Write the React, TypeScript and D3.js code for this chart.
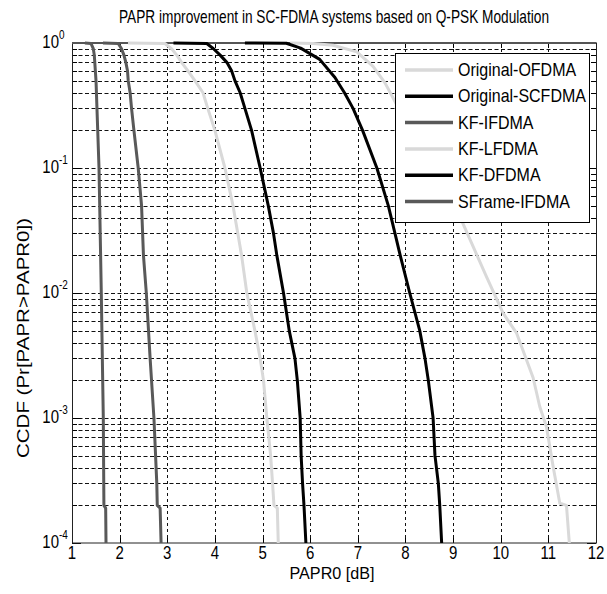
import React from "react";
import * as d3 from "d3";

type Pt = [number, number];

const seriesNames = ["Original-OFDMA", "Original-SCFDMA", "KF-IFDMA", "KF-LFDMA", "KF-DFDMA", "SFrame-IFDMA"];
const seriesColors = ["#d9d9d9", "#000000", "#595959", "#d9d9d9", "#000000", "#595959"];

const originalOFDMA: Pt[] = [[5.58,1],[6.06,0.99],[6.48,0.96],[6.98,0.85],[7.32,0.65],[7.57,0.48],[7.78,0.34],[8.1,0.2],[8.5,0.1],[8.85,0.06],[9.18,0.038],[9.7,0.0135],[10.05,0.0069],[10.33,0.0048],[10.68,0.0021],[10.82,0.00123],[10.96,0.00085],[11.1,4.1e-4],[11.24,2.08e-4],[11.38,2e-4],[11.44,1e-4]];
const originalSCFDMA: Pt[] = [[4.63,1],[5.5,0.995],[5.8,0.91],[6.2,0.74],[6.52,0.53],[6.72,0.4],[6.9,0.3],[7.1,0.2],[7.4,0.1],[7.64,0.05],[7.78,0.03],[7.89,0.02],[8.09,0.01],[8.3,0.005],[8.41,0.003],[8.48,0.002],[8.58,0.001],[8.62,5e-4],[8.69,3e-4],[8.72,2e-4],[8.76,1e-4]];
const kfIFDMA: Pt[] = [[1.65,1],[1.97,0.99],[2.04,0.9],[2.09,0.8],[2.13,0.7],[2.165,0.6],[2.18,0.5],[2.22,0.4],[2.25,0.3],[2.3,0.2],[2.39,0.1],[2.46,0.05],[2.5,0.02],[2.56,0.01],[2.64,0.003],[2.72,0.001],[2.78,3e-4],[2.79,2e-4],[2.85,1.9e-4],[2.87,1e-4]];
const kfLFDMA: Pt[] = [[2.175,1],[2.95,0.99],[3.09,0.9],[3.2,0.8],[3.3,0.7],[3.43,0.6],[3.58,0.5],[3.75,0.4],[3.85,0.3],[4.0,0.2],[4.21,0.1],[4.38,0.05],[4.48,0.03],[4.56,0.02],[4.67,0.01],[4.84,0.005],[4.95,0.003],[5.02,0.002],[5.09,0.001],[5.17,5e-4],[5.21,3e-4],[5.24,2e-4],[5.31,1.9e-4],[5.33,1e-4]];
const kfDFDMA: Pt[] = [[3.13,1],[3.83,0.99],[3.97,0.9],[4.11,0.8],[4.25,0.7],[4.35,0.6],[4.42,0.5],[4.53,0.4],[4.63,0.3],[4.77,0.2],[4.95,0.1],[5.12,0.05],[5.23,0.03],[5.3,0.02],[5.44,0.01],[5.56,0.005],[5.68,0.003],[5.73,0.002],[5.79,0.001],[5.81,5e-4],[5.84,3e-4],[5.87,2e-4],[5.91,1e-4]];
const sframeIFDMA: Pt[] = [[1.27,1],[1.4,0.99],[1.447,0.9],[1.468,0.8],[1.504,0.5],[1.54,0.2],[1.567,0.1],[1.615,0.01],[1.657,0.001],[1.67,2e-4],[1.707,1.9e-4],[1.714,1e-4]];

const seriesData = [originalOFDMA, originalSCFDMA, kfIFDMA, kfLFDMA, kfDFDMA, sframeIFDMA];

const xTicks = [1, 2, 3, 4, 5, 6, 7, 8, 9, 10, 11, 12];
const yExps = [0, -1, -2, -3, -4];

const titleText = "PAPR improvement in SC-FDMA systems based on Q-PSK Modulation";
const xLabel = "PAPR0 [dB]";
const yLabel = "CCDF (Pr[PAPR>PAPR0])";

const W = 607, H = 594;
const L = 72, R = 596, T = 43, B = 543;
const FONT = "'Liberation Sans', Arial, Helvetica, sans-serif";
const SY = 1.2;

function Txt(props: { x: number; y: number; size: number; anchor?: string; children: React.ReactNode; textLength?: number; rotate?: number }) {
  const { x, y, size, anchor, children, textLength, rotate } = props;
  const tr = `translate(${x},${y})${rotate ? ` rotate(${rotate})` : ""} scale(1,${SY})`;
  return (
    <text transform={tr} fontSize={size} fontFamily={FONT} textAnchor={anchor || "start"} fill="#000"
      textLength={textLength} lengthAdjust={textLength ? "spacingAndGlyphs" : undefined}>
      {children}
    </text>
  );
}

export default function App() {
  const x = d3.scaleLinear().domain([1, 12]).range([L, R]);
  const y = d3.scaleLog().domain([1e-4, 1]).range([B, T]);
  const line = d3.line<Pt>().x((d) => x(d[0])).y((d) => y(d[1]));

  const minorVals: number[] = [];
  for (let e = -4; e < 0; e++) {
    for (let m = 2; m <= 9; m++) minorVals.push(m * Math.pow(10, e));
  }
  const majorVals = yExps.map((e) => Math.pow(10, e));

  const legX = 395, legY = 53, legW = 194, legH = 169;
  const rowH = 26.3;

  return (
    <svg width={W} height={H} style={{ display: "block", position: "absolute", left: 0, top: 0, background: "#fff" }}>
      <rect x={0} y={0} width={W} height={H} fill="#fff" />
      {/* grid */}
      <g stroke="#111" strokeWidth={1} strokeDasharray="4,2.5" fill="none">
        {[...minorVals, ...majorVals.slice(1, -1)].map((v, i) => (
          <line key={"h" + i} x1={L} x2={R} y1={Math.round(y(v)) + 0.5} y2={Math.round(y(v)) + 0.5} />
        ))}
        {xTicks.slice(1, -1).map((v) => (
          <line key={"v" + v} x1={Math.round(x(v)) + 0.5} x2={Math.round(x(v)) + 0.5} y1={T} y2={B} strokeDasharray="3,3" />
        ))}
      </g>
      {/* ticks */}
      <g stroke="#000" strokeWidth={1}>
        {xTicks.map((v) => {
          const px = Math.round(x(v)) + 0.5;
          return (
            <g key={"xt" + v}>
              <line x1={px} x2={px} y1={B} y2={B - 5} />
              <line x1={px} x2={px} y1={T} y2={T + 5} />
            </g>
          );
        })}
        {majorVals.map((v, i) => {
          const py = Math.round(y(v)) + 0.5;
          return (
            <g key={"ym" + i}>
              <line x1={L} x2={L + 9} y1={py} y2={py} />
              <line x1={R} x2={R - 9} y1={py} y2={py} />
            </g>
          );
        })}
        {minorVals.map((v, i) => {
          const py = Math.round(y(v)) + 0.5;
          return (
            <g key={"yn" + i}>
              <line x1={L} x2={L + 5} y1={py} y2={py} />
              <line x1={R} x2={R - 5} y1={py} y2={py} />
            </g>
          );
        })}
      </g>
      {/* frame */}
      <rect x={L + 0.5} y={T} width={R - L} height={B - T} fill="none" stroke="#222" strokeWidth={1} />
      <line x1={L} x2={R} y1={T} y2={T} stroke="#555" strokeWidth={2} />
      {/* series */}
      <g fill="none" strokeLinejoin="round">
        {seriesData.map((d, i) => (
          <path key={"s" + i} d={line(d) || ""} stroke={seriesColors[i]} strokeWidth={3} />
        ))}
      </g>
      {/* legend */}
      <rect x={legX + 0.5} y={legY + 0.5} width={legW} height={legH} fill="#fff" stroke="#000" strokeWidth={1} />
      {seriesNames.map((n, i) => {
        const ry = legY + 17 + i * rowH;
        return (
          <g key={"l" + i}>
            <line x1={405} x2={453} y1={ry} y2={ry} stroke={seriesColors[i]} strokeWidth={3.5} />
            <Txt x={458} y={ry + 6} size={16}>{n}</Txt>
          </g>
        );
      })}
      {/* x tick labels */}
      {xTicks.map((v) => (
        <Txt key={"xl" + v} x={x(v)} y={559} size={15} anchor="middle">{v}</Txt>
      ))}
      {/* y tick labels */}
      {yExps.map((e) => {
        const py = y(Math.pow(10, e));
        return (
          <g key={"yl" + e}>
            <Txt x={59} y={py + 5} size={15} anchor="end">10</Txt>
            <Txt x={59} y={py - 4} size={10}>{String(e)}</Txt>
          </g>
        );
      })}
      {/* labels */}
      <Txt x={334} y={23} size={15} anchor="middle" textLength={430}>{titleText}</Txt>
      <Txt x={332} y={579} size={14} anchor="middle" textLength={85}>{xLabel}</Txt>
      <Txt x={29} y={(T + B) / 2 + 45} size={14} anchor="middle" rotate={-90} textLength={240}>{yLabel}</Txt>
    </svg>
  );
}
